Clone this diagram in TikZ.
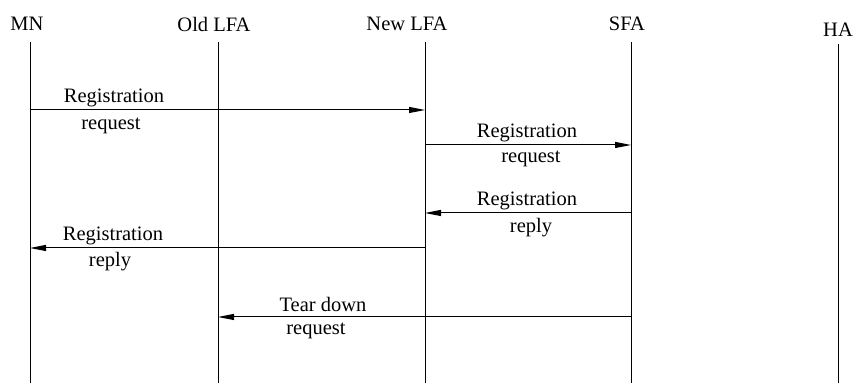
\documentclass[tikz,border=0pt]{standalone}
\usepackage{fontspec}
\setmainfont{Liberation Serif}
\usetikzlibrary{arrows.meta}

\tikzset{
    actor/.style={inner sep=0pt, font=\fontsize{10.25}{12}\selectfont},
    msgtext/.style={inner sep=0pt, font=\fontsize{10.25}{12}\selectfont},
    msg/.style={line width=0.5pt, -{Triangle[length=8pt,width=3pt]}}
}

\begin{document}
\begin{tikzpicture}[x=0.5pt,y=-0.5pt]
            \useasboundingbox (0,0) rectangle (861,383);
            \node[actor] (mn) at (27,24) {MN};
            \node[actor] (oldlfa) at (214,24) {Old LFA};
            \node[actor] (newlfa) at (407,24) {New LFA};
            \node[actor] (sfa) at (627,24) {SFA};
            \node[actor] (ha) at (838,30) {HA};
            \foreach \n/\x/\y in {mn/30/42,oldlfa/218/42,newlfa/425/42,sfa/631/42,ha/838/44}{
                \coordinate (\n-top) at (\x,\y);
                \coordinate (\n-bot) at (\x,383);
                \draw[line width=0.5pt] (\n-top) -- (\n-bot);
            }
            % messages
            \coordinate (m1s) at (30,110);  \coordinate (m1e) at (425,110);
            \coordinate (m2s) at (425,145); \coordinate (m2e) at (631,145);
            \coordinate (m3s) at (631,213); \coordinate (m3e) at (425,213);
            \coordinate (m4s) at (425,248); \coordinate (m4e) at (30,248);
            \coordinate (m5s) at (631,317); \coordinate (m5e) at (218,317);
            \draw[msg] (m1s) -- (m1e);
            \draw[msg] (m2s) -- (m2e);
            \draw[msg] (m3s) -- (m3e);
            \draw[msg] (m4s) -- (m4e);
            \draw[msg] (m5s) -- (m5e);
            \node[msgtext] (m1a) at (114,98) {Registration};
            \node[msgtext] (m1b) at (111,126) {request};
            \node[msgtext] (m2a) at (527,133) {Registration};
            \node[msgtext] (m2b) at (531,159) {request};
            \node[msgtext] (m3a) at (527,201) {Registration};
            \node[msgtext] (m3b) at (531,228) {reply};
            \node[msgtext] (m4a) at (113,236) {Registration};
            \node[msgtext] (m4b) at (110,262) {reply};
            \node[msgtext] (m5a) at (323,304) {Tear down};
            \node[msgtext] (m5b) at (316,331) {request};
        \end{tikzpicture}
\end{document}
